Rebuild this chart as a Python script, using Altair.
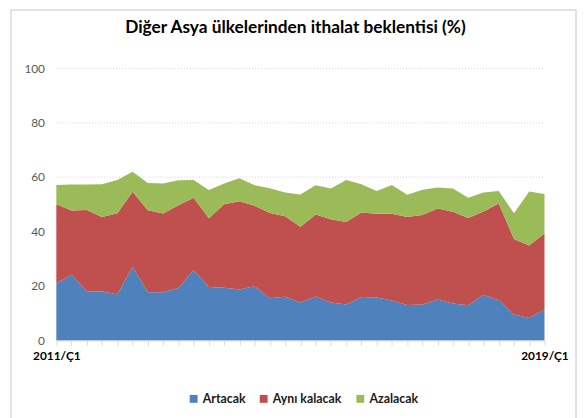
import altair as alt
import pandas as pd

quarters = [f"{y}/Ç{q}" for y in range(2011, 2020) for q in range(1, 5)][:33]
series = ["Artacak", "Aynı kalacak", "Azalacak"]
colors = ["#4F81BD", "#C0504D", "#9BBB59"]

artacak = [20.9, 24.1, 18.0, 17.9, 16.9, 27.0, 17.7, 17.7, 19.2, 25.8, 19.6, 19.3, 18.7,
           19.9, 15.5, 16.0, 13.9, 16.1, 13.9, 13.2, 15.9, 15.7, 14.6, 13.0, 13.2, 15.0,
           13.5, 12.9, 16.7, 14.7, 9.5, 8.2, 11.3]
ayni = [29.1, 23.6, 29.9, 27.4, 29.8, 27.6, 30.1, 28.9, 30.4, 26.6, 25.2, 30.7, 32.4,
        29.5, 31.3, 29.6, 27.8, 30.1, 30.6, 30.3, 31.1, 30.8, 31.9, 32.3, 32.8, 33.4,
        33.7, 32.0, 30.6, 35.6, 27.7, 26.6, 27.9]
azalacak = [7.1, 9.5, 9.3, 12.0, 12.2, 7.3, 10.0, 11.0, 9.2, 6.5, 10.4, 7.6, 8.4,
            7.6, 9.1, 8.7, 11.9, 10.8, 11.3, 15.4, 10.3, 8.4, 10.6, 8.2, 9.3, 7.7,
            8.6, 7.5, 7.0, 4.6, 9.5, 19.9, 14.6]

rows = []
for i, q in enumerate(quarters):
    for k, (name, vals) in enumerate(zip(series, [artacak, ayni, azalacak])):
        rows.append({"donem": q, "seri": name, "deger": vals[i], "sira": k})
df = pd.DataFrame(rows)

FONT = "Lato"
first, last = quarters[0], quarters[-1]

area = alt.Chart(df).mark_area().encode(
    x=alt.X("donem:O", sort=quarters, title=None,
            scale=alt.Scale(type="point", padding=0),
            axis=alt.Axis(labelAngle=0, labelOverlap=False,
                          labelExpr=f"(datum.value == '{first}' || datum.value == '{last}') ? datum.label : ''",
                          domainColor="#D9D9D9", tickColor="#D9D9D9", tickSize=5,
                          labelFont=FONT, labelFontSize=12, labelFontWeight="bold",
                          labelColor="#000000", labelPadding=5, grid=False)),
    y=alt.Y("deger:Q", stack="zero", title=None,
            scale=alt.Scale(domain=[0, 100], nice=False),
            axis=alt.Axis(values=[0, 20, 40, 60, 80, 100], domain=False, ticks=False,
                          labelFont=FONT, labelFontSize=12, labelColor="#595959",
                          labelPadding=12, gridColor="#D0D0D0", gridDash=[1, 2],
                          gridWidth=1)),
    color=alt.Color("seri:N", scale=alt.Scale(domain=series, range=colors),
                    legend=alt.Legend(title=None, orient="none", direction="horizontal",
                                      legendX=133, legendY=329, symbolType="square",
                                      symbolSize=64, symbolStrokeWidth=0,
                                      labelFont=FONT, labelFontSize=12.5,
                                      labelFontWeight="bold", labelColor="#1a1a1a",
                                      columnPadding=12, labelOffset=3)),
    order=alt.Order("sira:Q"),
)

frame = alt.Chart(alt.Data(values=[{}])).mark_rect(
    fill=None, stroke="#D9D9D9", strokeWidth=1.5
).encode(
    x=alt.value(-46), x2=alt.value(527), y=alt.value(-59), y2=alt.value(362)
)

chart = alt.layer(frame, area).properties(
    width=495, height=276,
    padding={"left": 49, "top": 58, "right": 35, "bottom": 90},
    autosize=alt.AutoSizeParams(type="none"),
    title=alt.TitleParams("Diğer Asya ülkelerinden ithalat beklentisi (%)",
                          font=FONT, fontSize=17.5, fontWeight="bold", color="#000000",
                          anchor="middle", frame="group", dx=-5, offset=-42,
                          baseline="alphabetic"),
).configure_view(stroke=None)

chart.save("out.html", embed_options={"renderer": "svg", "actions": False})
